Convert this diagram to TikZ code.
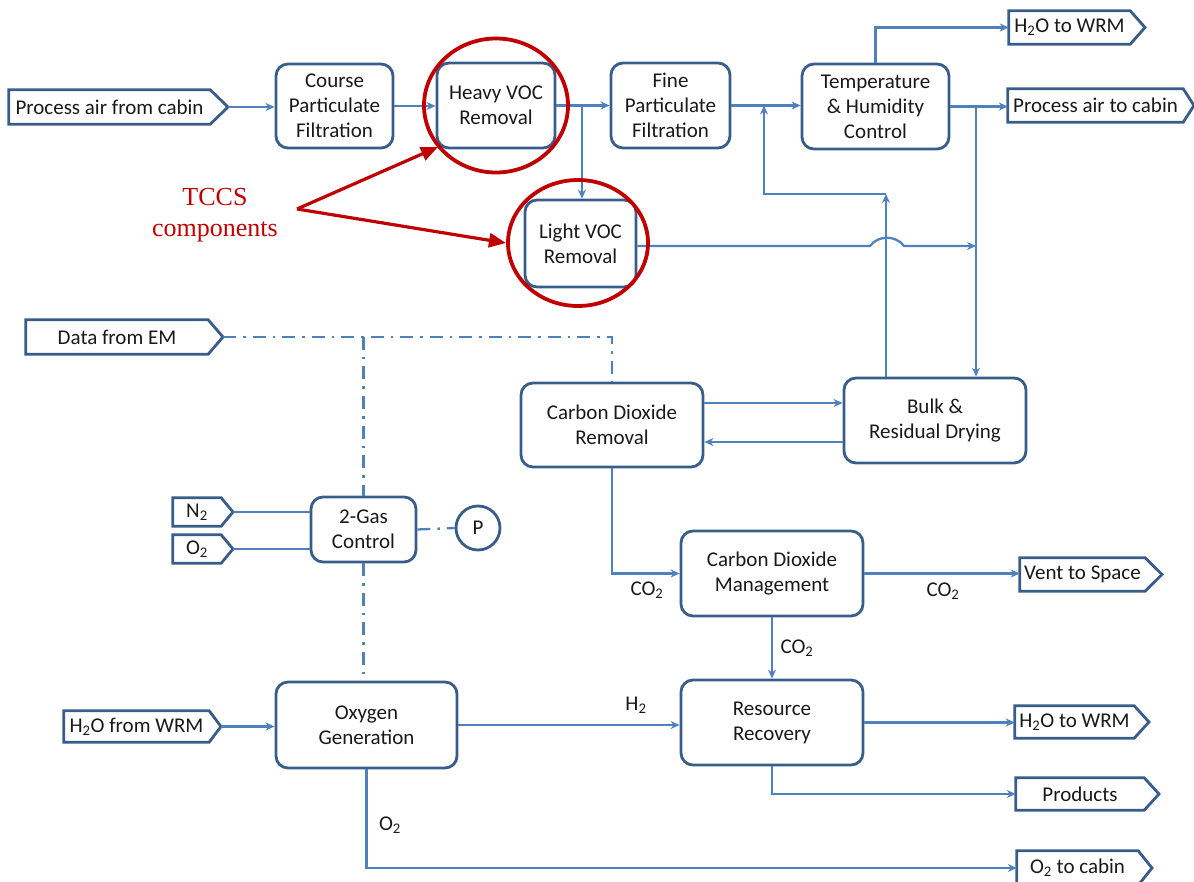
\documentclass[tikz,border=0pt]{standalone}
\usepackage{fontspec}
\setmainfont{Carlito}
\newfontfamily\serifTCCS{Liberation Serif}
\usetikzlibrary{arrows.meta,calc}
\definecolor{lineblue}{RGB}{79,129,189}
\definecolor{boxblue}{RGB}{56,93,138}
\definecolor{tccsred}{RGB}{192,0,0}
\tikzset{
  txt/.style={font=\fontsize{21pt}{25pt}\selectfont, text=black!90},
  procbox/.style={txt, draw=boxblue, line width=2.8pt, rounded corners=12pt, align=center, inner sep=0pt},
  tagtext/.style={txt, inner sep=0pt, align=center},
  tagline/.style={draw=boxblue, line width=2.8pt, line join=miter},
  flow/.style={draw=lineblue, line width=2.3pt, -{Stealth[length=9pt,width=8pt]}},
  plainline/.style={draw=lineblue, line width=2.3pt},
  ctrl/.style={draw=lineblue, line width=2.3pt, dash pattern=on 13pt off 7pt on 2.5pt off 7pt},
  redring/.style={draw=tccsred, line width=3.8pt},
  redarrow/.style={draw=tccsred, line width=3.2pt, -{Triangle[length=17pt,width=14pt]}},
  lbl/.style={txt, inner sep=0pt}
}
% name, x1, y1, x2, y2, text
\newcommand\mkbox[6]{%
  \node[procbox, minimum width={(#4-#2)*1pt}, minimum height={(#5-#3)*1pt}] (#1) at ({(#2+#4)/2},{(#3+#5)/2}) {#6};}
% name, x1, y1, xflat, xtip, y2, text
\newcommand\mktag[7]{%
  \node[tagtext, minimum width={(#4-#2)*1pt}, minimum height={(#6-#3)*1pt}] (#1) at ({(#2+#4)/2},{(#3+#6)/2}) {#7};
  \coordinate (#1tip) at (#5,{(#3+#6)/2});
  \draw[tagline] (#1.north west) -- (#1.north east) -- (#1tip) -- (#1.south east) -- (#1.south west) -- cycle;}
\begin{document}
\begin{tikzpicture}[x=1pt,y=-1pt]
\useasboundingbox (0,0) rectangle (1194,882);
% boxes
\mkbox{course}{276}{64}{393}{148}{Course\\Particulate\\Filtration}
\mkbox{heavy}{437}{63}{555}{148}{Heavy VOC\\Removal}
\mkbox{fine}{611}{63}{730}{148}{Fine\\Particulate\\Filtration}
\mkbox{thc}{802}{64}{949}{149}{Temperature\\\& Humidity\\Control}
\mkbox{light}{525}{200}{636}{287}{Light VOC\\Removal}
\mkbox{cdr}{521}{383}{703}{467}{Carbon Dioxide\\Removal}
\mkbox{bulk}{844}{378}{1026}{463}{Bulk \&\\Residual Drying}
\mkbox{gas}{311}{497}{416}{562}{2-Gas\\Control}
\mkbox{cdm}{681}{531}{863}{616}{Carbon Dioxide\\Management}
\mkbox{og}{276}{682}{457}{768}{Oxygen\\Generation}
\mkbox{rr}{681}{680}{863}{765}{Resource\\Recovery}
\node[txt, draw=boxblue, line width=2.8pt, circle, minimum size=44pt, inner sep=0pt] (pc) at (478,528) {P};
% tags
\mktag{pin}{9}{90}{210}{228}{124}{Process air from cabin}
\mktag{h2oA}{1009}{11}{1130}{1145}{44}{H\textsubscript{2}O to WRM}
\mktag{pout}{1008}{89}{1183}{1194}{122}{Process air to cabin}
\mktag{dem}{26}{320}{208}{223}{354}{Data from EM}
\mktag{ntwo}{173}{498}{221}{233}{526}{N\textsubscript{2}}
\mktag{otwo}{173}{535}{221}{233}{563}{O\textsubscript{2}}
\mktag{h2oin}{64}{711}{209}{221}{742}{H\textsubscript{2}O from WRM}
\mktag{vent}{1020}{558}{1145}{1162}{591}{Vent to Space}
\mktag{h2oB}{1015}{706}{1134}{1149}{738}{H\textsubscript{2}O to WRM}
\mktag{prod}{1016}{778}{1144}{1159}{810}{Products}
\mktag{otc}{1017}{851}{1138}{1152}{885}{O\textsubscript{2} to cabin}
% helper coordinates
\coordinate (j1) at (582,105.5);
\coordinate (j2) at (764,105.5);
\coordinate (j3) at (976,106);
\coordinate (ret) at (886,194);
\coordinate (hopL) at (870,0);
\coordinate (hopR) at (904,0);
\coordinate (ya) at (0,403);
\coordinate (yb) at (0,442);
\coordinate (yl) at (0,246);
% top air path
\draw[flow] (pintip) -- (pintip -| course.west);
\draw[flow] (course.east) -- (course.east -| heavy.west);
\draw[flow] (heavy.east) -- (heavy.east -| fine.west);
\draw[flow] (j1) -- (j1 |- light.north);
\draw[flow] (fine.east) -- (fine.east -| thc.west);
\draw[flow] (thc.north) |- (h2oA.west);
\draw[flow] (thc.east) -- (thc.east -| pout.west);
\draw[flow] (j3) -- (j3 |- bulk.north);
\draw[flow] (bulk.north -| ret) -- (ret);
\draw[flow] (ret) -| (j2);
% light VOC output with hop
\draw[flow] (light.east |- yl) -- (hopL |- yl)
  .. controls ($(hopL |- yl)+(8,-11)$) and ($(hopR |- yl)+(-8,-11)$) .. (hopR |- yl)
  -- (j3 |- yl);
% CO2 removal / drying
\draw[flow] (cdr.east |- ya) -- (bulk.west |- ya);
\draw[flow] (bulk.west |- yb) -- (cdr.east |- yb);
\draw[flow] (cdr.south) |- (cdm.west);
\node[lbl] (lco2a) at (647,590) {CO\textsubscript{2}};
\draw[flow] (cdm.east) -- (cdm.east -| vent.west);
\node[lbl] (lco2b) at (943,591) {CO\textsubscript{2}};
\draw[flow] (cdm.south) -- (rr.north);
\node[lbl] (lco2c) at (797,648) {CO\textsubscript{2}};
% control lines
\draw[ctrl] (demtip) -| (cdr.north);
\draw[ctrl] (gas.north |- demtip) -- (gas.north);
\draw[ctrl] (gas.south) -- (gas.south |- og.north);
\draw[ctrl] (gas.east) -- (pc.west);
\draw[plainline] (ntwotip) -- (ntwotip -| gas.west);
\draw[plainline] (otwotip) -- (otwotip -| gas.west);
% oxygen generation
\draw[flow] (h2ointip) -- (h2ointip -| og.west);
\draw[flow] (og.east) -- (og.east -| rr.west);
\node[lbl] (lh2) at (636,705) {H\textsubscript{2}};
\draw[flow] (og.south) |- (otc.west);
\node[lbl] (lo2) at (390,825) {O\textsubscript{2}};
\draw[flow] (rr.east) -- (rr.east -| h2oB.west);
\draw[flow] (rr.south) |- (prod.west);
% TCCS annotation
\draw[redring] (heavy.center) ellipse [x radius=72, y radius=67];
\draw[redring] (578,243) ellipse [x radius=70, y radius=63];
\node[font=\serifTCCS\fontsize{26pt}{31pt}\selectfont, text=tccsred, align=center, inner sep=0pt] (tccs) at (215,215) {TCCS\\components};
\coordinate (apex) at (297,209);
\coordinate (tipA) at (438,147);
\coordinate (tipB) at (506,243);
\draw[redarrow] (apex) -- (tipA);
\draw[redarrow] (apex) -- (tipB);
\end{tikzpicture}
\end{document}
